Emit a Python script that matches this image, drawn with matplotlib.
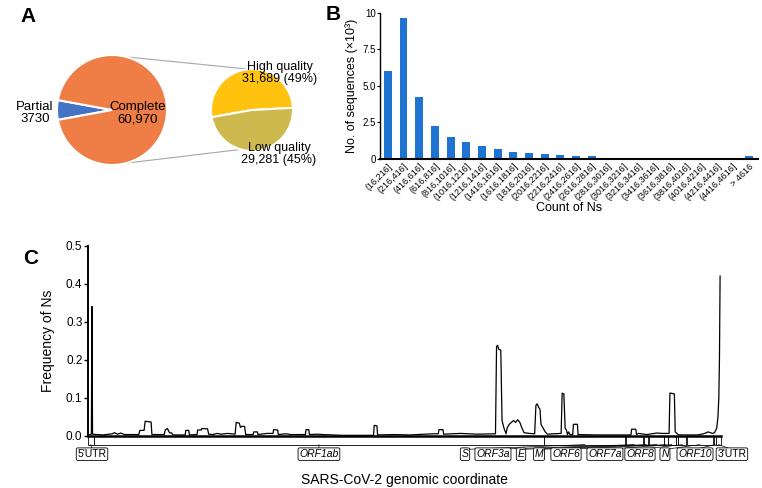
import matplotlib
matplotlib.use("Agg")
import matplotlib.pyplot as plt
import matplotlib.transforms as mtransforms
from matplotlib.patches import Rectangle
import numpy as np

plt.rcParams["font.family"] = ["Liberation Sans", "DejaVu Sans"]

W, H = 762, 488

# ---- panel A data
seq_labels = ["Partial", "Complete"]
seq_counts = [3730, 60970]
quality_labels = ["High quality", "Low quality"]
quality_counts = [31689, 29281]
quality_pct = [49, 45]

# ---- panel B data (x10^3 sequences)
n_bins = ["(16,216]", "(216,416]", "(416,616]", "(616,816]", "(816,1016]",
          "(1016,1216]", "(1216,1416]", "(1416,1616]", "(1616,1816]",
          "(1816,2016]", "(2016,2216]", "(2216,2416]", "(2416,2616]",
          "(2616,2816]", "(2816,3016]", "(3016,3216]", "(3216,3416]",
          "(3416,3616]", "(3616,3816]", "(3816,4016]", "(4016,4216]",
          "(4216,4416]", "(4416,4616]", "> 4616"]
n_counts = [6.0, 9.65, 4.25, 2.29, 1.49, 1.19, 0.92, 0.66, 0.48, 0.39, 0.37,
            0.25, 0.23, 0.2, 0.1, 0.02, 0.02, 0.01, 0.01, 0.01, 0.01, 0.01,
            0.01, 0.2]

# ---- panel C data
genes = ["5'UTR", "ORF1ab", "S", "ORF3a", "E", "M", "ORF6", "ORF7a", "ORF7b",
         "ORF8", "N", "ORF10", "3'UTR"]
gene_start = [1, 266, 21563, 25393, 26245, 26523, 27202, 27394, 27756, 27894,
              28274, 29558, 29675]
gene_end = [265, 21555, 25384, 26220, 26472, 27191, 27387, 27759, 27887, 28259,
            29533, 29674, 29903]
labelled = ["5'UTR", "ORF1ab", "S", "ORF3a", "E", "M", "ORF6", "ORF7a",
            "ORF8", "N", "ORF10", "3'UTR"]

# (genome position, frequency of N) read along the profile
profile = [
    (0, 0.002), (160, 0.004), (185, 0.34), (215, 0.004), (700, 0.002),
    (1150, 0.005), (1250, 0.008), (1400, 0.004), (1550, 0.007), (1720, 0.003),
    (2400, 0.003), (2450, 0.014), (2650, 0.014), (2700, 0.038), (2980, 0.036),
    (3020, 0.003), (3600, 0.003), (3650, 0.015), (3750, 0.019), (3850, 0.008),
    (3960, 0.007), (4000, 0.002), (4590, 0.002), (4620, 0.014), (4760, 0.014),
    (4790, 0.002), (5150, 0.003), (5180, 0.015), (5350, 0.015), (5380, 0.019),
    (5650, 0.018), (5700, 0.004), (5900, 0.003), (6100, 0.006), (6300, 0.004),
    (6600, 0.006), (6950, 0.004), (7000, 0.035), (7150, 0.033), (7200, 0.022),
    (7280, 0.025), (7400, 0.024), (7450, 0.003), (7800, 0.003), (7830, 0.010),
    (8000, 0.010), (8030, 0.003), (8450, 0.006), (8740, 0.006), (8770, 0.016),
    (8960, 0.015), (8990, 0.003), (9370, 0.005), (9570, 0.003), (10270, 0.003),
    (10300, 0.016), (10430, 0.016), (10460, 0.003), (10850, 0.004),
    (11100, 0.003), (12000, 0.001), (13490, 0.001), (13520, 0.027),
    (13650, 0.026), (13680, 0.002), (14500, 0.003), (15200, 0.002),
    (16300, 0.005), (16550, 0.005), (16580, 0.016), (16770, 0.016),
    (16800, 0.004), (17600, 0.006), (18370, 0.004), (19250, 0.005),
    (19300, 0.235), (19350, 0.238), (19400, 0.228), (19500, 0.225),
    (19560, 0.040), (19650, 0.020), (19750, 0.005), (19800, 0.020),
    (19900, 0.030), (20000, 0.035), (20100, 0.040), (20200, 0.035),
    (20300, 0.042), (20400, 0.035), (20500, 0.020), (20600, 0.008),
    (20850, 0.006), (21100, 0.005), (21160, 0.080), (21220, 0.084),
    (21280, 0.075), (21350, 0.070), (21400, 0.030), (21500, 0.020),
    (21600, 0.010), (21700, 0.004), (22000, 0.005), (22350, 0.006),
    (22400, 0.112), (22480, 0.110), (22540, 0.020), (22600, 0.015),
    (22650, 0.003), (22700, 0.010), (22770, 0.003), (22900, 0.003),
    (22930, 0.030), (23120, 0.030), (23150, 0.003), (24000, 0.002),
    (25650, 0.002), (25680, 0.017), (25880, 0.017), (25910, 0.003),
    (26000, 0.006), (26400, 0.003), (26880, 0.007), (27130, 0.006),
    (27450, 0.006), (27490, 0.112), (27520, 0.112), (27700, 0.110),
    (27740, 0.010), (27780, 0.008), (27900, 0.002), (28800, 0.002),
    (29080, 0.005), (29300, 0.010), (29500, 0.006), (29600, 0.008),
    (29700, 0.020), (29760, 0.050), (29800, 0.100), (29830, 0.200),
    (29860, 0.420),
]
pos = [p for p, _ in profile]
freq = [f for _, f in profile]

# label centres along the genome track (layout)
label_x = [190, 10910, 17810, 19130, 20455, 21305, 22580, 24420, 26075, 27255,
           28675, 30420]


def px_axes(fig, left, top, right, bottom):
    return fig.add_axes([left / W, 1 - bottom / H, (right - left) / W, (bottom - top) / H])


fig = plt.figure(figsize=(W / 100, H / 100), dpi=100)

# ---------------- A
axA = px_axes(fig, 0, 20, 330, 200)
big_c, big_r = (112, -110), 55
small_c, small_r = (252, -110), 41
part_angle = 360 * seq_counts[0] / sum(seq_counts)
axA.pie(seq_counts, colors=["#4472c4", "#ee7d46"], startangle=180 - part_angle / 2,
        center=big_c, radius=big_r, wedgeprops=dict(edgecolor="white", linewidth=1.5))
axA.pie(quality_counts, colors=["#ffc20e", "#cdb94e"], startangle=3,
        center=small_c, radius=small_r, wedgeprops=dict(edgecolor="white", linewidth=1.5))
for a_big, a_small in [(75, 95), (-75, -106)]:
    p0 = (big_c[0] + big_r * np.cos(np.radians(a_big)), big_c[1] + big_r * np.sin(np.radians(a_big)))
    p1 = (small_c[0] + small_r * np.cos(np.radians(a_small)), small_c[1] + small_r * np.sin(np.radians(a_small)))
    axA.plot([p0[0], p1[0]], [p0[1], p1[1]], color="#a6a6a6", lw=0.8, zorder=0)
axA.set_xlim(0, 330)
axA.set_ylim(-200, -20)
fs = 9.5
axA.text(35, -113, f"{seq_labels[0]}\n{seq_counts[0]}", ha="center", va="center", fontsize=fs, linespacing=1.05)
axA.text(138, -113, f"{seq_labels[1]}\n{seq_counts[1]:,}", ha="center", va="center", fontsize=fs, linespacing=1.05)
axA.text(280, -73, f"{quality_labels[0]}\n{quality_counts[0]:,} ({quality_pct[0]}%)",
         ha="center", va="center", fontsize=fs - 0.5, linespacing=1.05)
axA.text(279, -154, f"{quality_labels[1]}\n{quality_counts[1]:,} ({quality_pct[1]}%)",
         ha="center", va="center", fontsize=fs - 0.5, linespacing=1.05)

# ---------------- B
axB = px_axes(fig, 380, 13, 758, 159)
xb = np.arange(len(n_bins))
axB.bar(xb, n_counts, width=0.5, color="#1f74d2")
axB.set_xlim(-0.5, len(n_bins) - 0.4)
axB.set_ylim(0, 10)
axB.set_yticks([0, 2.5, 5, 7.5, 10])
axB.set_yticklabels(["0", "2.5", "5.0", "7.5", "10"])
axB.set_xticks(xb)
axB.set_xticklabels(n_bins, rotation=45, ha="right", rotation_mode="anchor", fontsize=6.5)
axB.tick_params(axis="y", labelsize=7, length=2, width=0.8, pad=1)
axB.tick_params(axis="x", length=0, pad=2)
for s in ["top", "right"]:
    axB.spines[s].set_visible(False)
axB.spines["left"].set_linewidth(1.0)
axB.spines["bottom"].set_linewidth(1.5)
axB.set_ylabel("No. of sequences (×10³)", fontsize=9, labelpad=3)
axB.set_xlabel("Count of Ns", fontsize=9, labelpad=0)

# ---------------- C
axC = px_axes(fig, 88, 245.7, 721, 435.7)
axC.plot(pos, freq, color="black", lw=0.9)
axC.set_xlim(0, 29903)
axC.set_ylim(0, 0.5)
axC.set_yticks([0, 0.1, 0.2, 0.3, 0.4, 0.5])
axC.set_yticklabels(["0.0", "0.1", "0.2", "0.3", "0.4", "0.5"])
axC.set_xticks([])
axC.tick_params(axis="y", labelsize=8.5, length=3, width=1, pad=1)
for s in ["top", "right"]:
    axC.spines[s].set_visible(False)
axC.spines["left"].set_linewidth(1.4)
axC.spines["bottom"].set_linewidth(1.8)
axC.set_ylabel("Frequency of Ns", fontsize=10, labelpad=8)
axC.set_xlabel("SARS-CoV-2 genomic coordinate", fontsize=10, labelpad=27)

trans = mtransforms.blended_transform_factory(axC.transData, axC.transAxes)
bar_top, bar_bot = 0.0, -0.047
for g, s, e in zip(genes, gene_start, gene_end):
    axC.add_patch(Rectangle((s, bar_bot), e - s, bar_top - bar_bot, transform=trans,
                            clip_on=False, facecolor="white", edgecolor="black", lw=0.6))
for name, lx in zip(labelled, label_x):
    i = genes.index(name)
    gc = (gene_start[i] + gene_end[i]) / 2
    axC.plot([gc, lx], [bar_bot, -0.072], transform=trans, clip_on=False, color="black", lw=0.5)
    style = "normal" if "UTR" in name else "italic"
    axC.text(lx, -0.097, name, transform=trans, ha="center", va="center", fontsize=7.5,
             fontstyle=style,
             bbox=dict(boxstyle="round,pad=0.12,rounding_size=0.15", fc="white", ec="black", lw=0.6))

# panel letters
for letter, (x, y) in zip("ABC", [(28, 16), (333, 15), (31, 258)]):
    fig.text(x / W, 1 - y / H, letter, fontsize=15, fontweight="bold", ha="center", va="center")

fig.savefig("out.png", dpi=100)
